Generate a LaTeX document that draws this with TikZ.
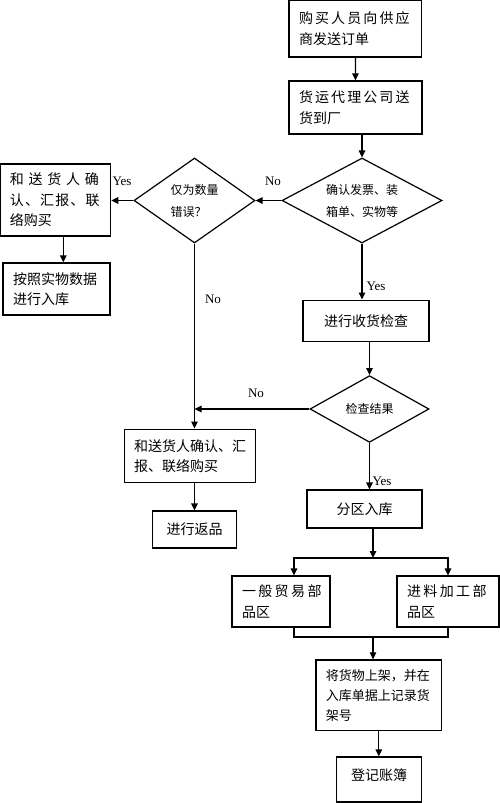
\documentclass[tikz,border=0pt]{standalone}
\usepackage{fontspec}
\setmainfont{Liberation Serif}
\newfontfamily\cjk{Noto Sans CJK SC}
\usetikzlibrary{positioning, shapes.geometric, arrows.meta, calc}

\begin{document}
\begin{tikzpicture}[x=1pt, y=-1pt, line width=1.2pt,
    box/.style={draw, rectangle, inner xsep=10pt, inner ysep=0pt, align=left,
      font=\cjk\fontsize{14}{20.5}\selectfont},
    cbox/.style={draw, rectangle, inner sep=0pt, align=center,
      font=\cjk\fontsize{14}{20}\selectfont},
    decision/.style={draw, diamond, inner sep=0pt, shape aspect=1.8,
      font=\cjk\fontsize{12}{22}\selectfont},
    arrow/.style={-{Triangle[length=7pt, width=6.5pt]}},
    lbl/.style={font=\fontsize{13}{15}\selectfont, inner sep=0pt}]

  \useasboundingbox (0,0) rectangle (500,803);

  % Nodes
  \node[box, text width=112.7pt, minimum height=57pt] (order) at (355.4,28.5)
    {{\addfontfeature{LetterSpace=15}购买人员向供应}\\商发送订单};
  \node[box, text width=113pt, minimum height=53pt] (ship) at (355.5,107.5)
    {{\addfontfeature{LetterSpace=15}货运代理公司送}\\货到厂};
  \node[decision, minimum width=160pt, minimum height=85pt, align=center] (check) at (362,200.5)
    {确认发票、装\\箱单、实物等};
  \node[decision, minimum width=121pt, minimum height=85pt, align=left] (onlyqty) at (194.5,200.5)
    {仅为数量\\错误？};
  \node[box, text width=90.7pt, minimum height=72pt] (confirmA) at (55.3,200)
    {{\addfontfeature{LetterSpace=34}和送货人确}\\{\addfontfeature{LetterSpace=8}认、汇报、联}\\络购买};
  \node[box, text width=87pt, minimum height=52pt] (stockA) at (56.5,289)
    {按照实物数据\\进行入库};
  \node[cbox, minimum width=126pt, minimum height=41.7pt] (inspect) at (366,321)
    {进行收货检查};
  \node[decision, minimum width=119pt, minimum height=66.7pt, align=center] (result) at (369.5,409)
    {检查结果};
  \node[box, text width=111.7pt, minimum height=53.7pt] (confirmB) at (190,456)
    {和送货人确认、汇\\报、联络购买};
  \node[cbox, minimum width=84.7pt, minimum height=37pt] (ret) at (194.5,529.5)
    {进行返品};
  \node[cbox, minimum width=115pt, minimum height=38pt] (zone) at (364.5,509)
    {分区入库};
  \node[box, text width=78pt, minimum height=51pt] (general) at (281,601.5)
    {{\addfontfeature{LetterSpace=17}一般贸易部}\\品区};
  \node[box, text width=82pt, minimum height=51pt] (process) at (448,601.5)
    {{\addfontfeature{LetterSpace=17}进料加工部}\\品区};
  \node[box, text width=105.7pt, minimum height=70.7pt,
    font=\cjk\fontsize{13}{20}\selectfont] (shelf) at (378.8,695.3)
    {将货物上架，并在\\入库单据上记录货\\架号};
  \node[cbox, minimum width=85pt, minimum height=45pt, text height=23pt, text depth=22pt] (ledger) at (379.2,779.5)
    {登记账簿};

  % Labels
  \node[lbl] (noA) at (273,181) {No};
  \node[lbl] (yesA) at (122,181) {Yes};
  \node[lbl] (noB) at (213,299) {No};
  \node[lbl] (yesB) at (376,286) {Yes};
  \node[lbl] (noC) at (256,393) {No};
  \node[lbl] (yesC) at (382,481) {Yes};

  \coordinate (split) at (373,558);
  \coordinate (merge) at (373,637);

  % Arrows
  \draw[arrow] (order) -- (ship);
  \draw[arrow] (ship.south -| check.north) -- (check.north);
  \draw[arrow] (check) -- (onlyqty);
  \draw[arrow] (onlyqty.west) -- (onlyqty.west -| confirmA.east);
  \draw[arrow] ([xshift=8pt]confirmA.south) -- ([xshift=8pt]confirmA.south |- stockA.north);
  \draw[arrow] (onlyqty.south) -- (onlyqty.south |- confirmB.north);
  \draw[arrow] (check.south) -- (check.south |- inspect.north);
  \draw[arrow] (inspect.south -| result.north) -- (result.north);
  \draw[arrow] (result.west) -- (result.west -| onlyqty.south);
  \draw[arrow] (confirmB.south -| ret.north) -- (ret.north);
  \draw[arrow] (result.south) -- (result.south |- zone.north);
  \draw[arrow] (zone.south -| split) -- (split);
  \draw[arrow] (split) -| ([xshift=13pt]general.north);
  \draw[arrow] (split) -| (process.north);
  \draw ([xshift=13pt]general.south) |- (merge) -| (process.south);
  \draw[arrow] (merge) -- (merge |- shelf.north);
  \draw[arrow] (shelf.south) -- (shelf.south |- ledger.north);
\end{tikzpicture}
\end{document}
